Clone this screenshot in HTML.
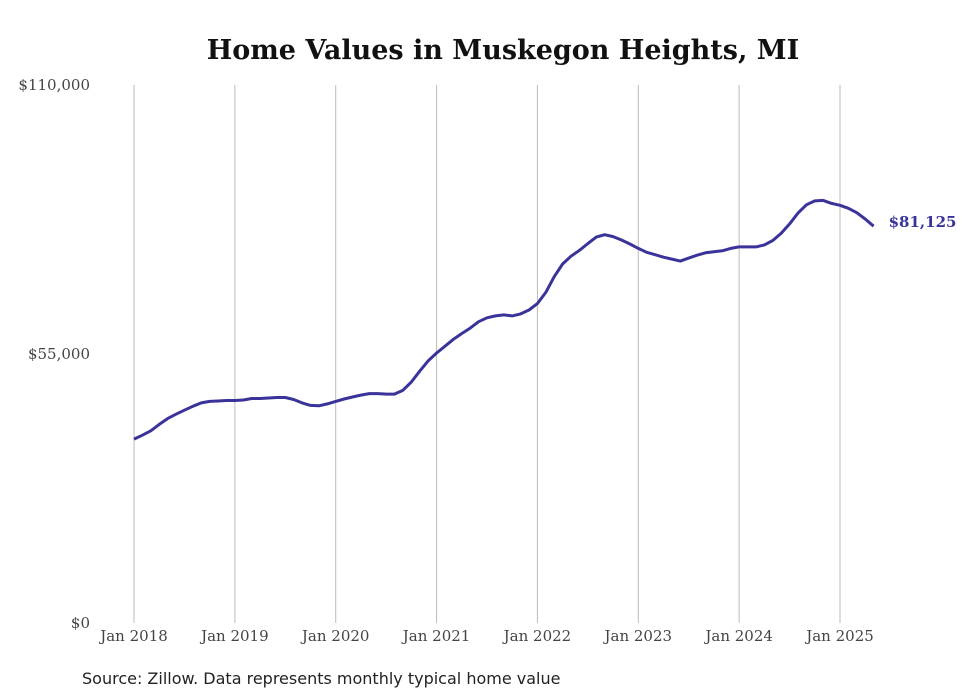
<!DOCTYPE html>
<html><head><meta charset="utf-8"><style>
body{margin:0;background:#fff;}
svg{display:block;font-family:"DejaVu Serif","Liberation Serif",serif;}
</style></head><body>
<svg id="chart" width="980" height="699">
<text x="503" y="59" text-anchor="middle" font-size="27" font-weight="bold" fill="#111">Home Values in Muskegon Heights, MI</text>
<g id="grid"></g>
<g id="yaxis"></g>
<g id="xaxis"></g>
<path id="line" fill="none" stroke="#3a3399" stroke-width="3" stroke-linejoin="round"/>
<text id="endlabel" font-size="15" font-weight="bold" fill="#3a3399"></text>
<text x="82" y="684" font-size="16" fill="#222" font-family="DejaVu Sans, Liberation Sans, sans-serif">Source: Zillow. Data represents monthly typical home value</text>
</svg>
<script>
const years = ["Jan 2018","Jan 2019","Jan 2020","Jan 2021","Jan 2022","Jan 2023","Jan 2024","Jan 2025"];
const yTicks = [0, 55000, 110000];
const yTickLabels = ["$0","$55,000","$110,000"];
const values = [
37.6,38.4,39.3,40.6,41.8,42.7,43.5,44.3,45.0,45.3,45.4,45.5,
45.5,45.6,45.9,45.9,46.0,46.1,46.1,45.7,45.0,44.5,44.4,44.8,
45.3,45.8,46.2,46.6,46.9,46.9,46.8,46.8,47.6,49.3,51.5,53.6,
55.2,56.6,58.0,59.2,60.3,61.6,62.4,62.8,63.0,62.8,63.2,64.0,
65.3,67.6,70.8,73.4,75.0,76.2,77.6,78.9,79.4,79.0,78.3,77.5,
76.6,75.8,75.3,74.8,74.4,74.0,74.6,75.2,75.7,75.9,76.1,76.6,
76.9,76.9,76.9,77.3,78.2,79.7,81.6,83.8,85.5,86.3,86.4,85.8,
85.4,84.8,83.9,82.6,81.125].map(v=>v*1000);
const lastLabel = "$81,125";

const NS="http://www.w3.org/2000/svg";
const x0=134, pxPerMonth=(840-134)/84;
const xOf=i=>x0+i*pxPerMonth;
const yOf=v=>623-v/110000*538;
const grid=document.getElementById('grid'), xa=document.getElementById('xaxis'), ya=document.getElementById('yaxis');
years.forEach((lab,k)=>{
  const x=xOf(k*12);
  const l=document.createElementNS(NS,'line');
  l.setAttribute('x1',x);l.setAttribute('x2',x);l.setAttribute('y1',85);l.setAttribute('y2',623);
  l.setAttribute('stroke','#bbb');l.setAttribute('stroke-width','1');
  
  
  grid.appendChild(l);
  const t=document.createElementNS(NS,'text');
  t.setAttribute('x',x);t.setAttribute('y',641);t.setAttribute('text-anchor','middle');
  t.setAttribute('font-size','15');t.setAttribute('fill','#444');
  t.textContent=lab;
  
  
  xa.appendChild(t);
});
yTicks.forEach((v,k)=>{
  const t=document.createElementNS(NS,'text');
  t.setAttribute('x',90);t.setAttribute('y',yOf(v)+5);t.setAttribute('text-anchor','end');
  t.setAttribute('font-size','15');t.setAttribute('fill','#444');
  t.textContent=yTickLabels[k];
  
  
  ya.appendChild(t);
});
document.getElementById('line').setAttribute('d',values.map((v,i)=>(i?'L':'M')+xOf(i).toFixed(1)+','+yOf(v).toFixed(1)).join(''));
const el=document.getElementById('endlabel');
const li=values.length-1;
el.setAttribute('x',xOf(li)+15);el.setAttribute('y',yOf(values[li])+1);
el.textContent=lastLabel;
</script>
</body></html>
